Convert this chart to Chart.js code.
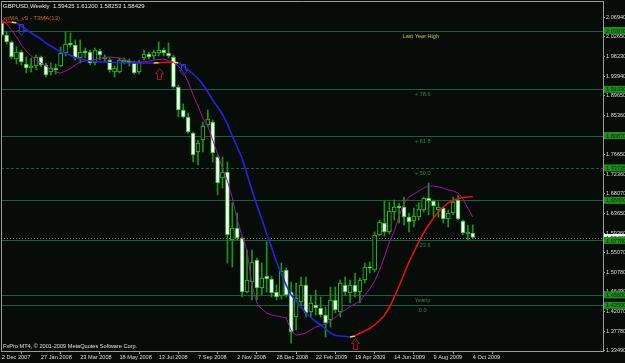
<!DOCTYPE html>
<html>
<head>
<meta charset="utf-8">
<title>GBPUSD,Weekly</title>
<script src="https://cdn.jsdelivr.net/npm/chart.js@4.4.1/dist/chart.umd.min.js"></script>
<style>
  html, body { margin: 0; padding: 0; background: #080c08; }
  canvas { display: block; }
</style>
</head>
<body>
<canvas id="chart" width="625" height="363"></canvas>
<script>
// ------------------- Weekly candles, 2 Dec 2007 .. 4 Oct 2009 -------------------
const opens = [
  2.0562, 2.0298, 2.0144, 1.9770, 1.9924, 1.9660, 1.9572, 1.9616, 1.9814, 1.9638,
  1.9484, 1.9572, 1.9616, 1.9902, 2.0122, 2.0078, 1.9792, 1.9946, 1.9924, 1.9682,
  1.9946, 1.9770, 1.9748, 1.9484, 1.9484, 1.9704, 1.9726, 1.9682, 1.9484, 1.9792,
  1.9880, 1.9836, 1.9902, 1.9968, 1.9902, 1.9814, 1.9154, 1.8648, 1.8494, 1.8142,
  1.7724, 1.7988, 1.8318, 1.8384, 1.7614, 1.7152, 1.7284, 1.5788, 1.6052, 1.5832,
  1.4644, 1.4864, 1.5348, 1.4732, 1.4996, 1.4930, 1.4644, 1.4556, 1.5128, 1.4644,
  1.4094, 1.4424, 1.4798, 1.4204, 1.4358, 1.4292, 1.4138, 1.4028, 1.4468, 1.4204,
  1.4798, 1.4622, 1.4798, 1.4644, 1.4908, 1.5194, 1.5128, 1.5898, 1.6162, 1.5964,
  1.6404, 1.6536, 1.6514, 1.6294, 1.6206, 1.6294, 1.6448, 1.6712, 1.6646, 1.6448,
  1.6492, 1.6250, 1.6382, 1.6668, 1.6206, 1.5920, 1.59425
];
const highs = [
  2.0628, 2.0364, 2.0166, 2.0034, 1.9968, 1.9814, 1.9792, 1.9858, 1.9836, 1.9682,
  1.9682, 1.9660, 2.0034, 2.0364, 2.0342, 2.0188, 2.0188, 2.0012, 1.9968, 2.0012,
  1.9990, 1.9858, 1.9792, 1.9616, 1.9792, 1.9792, 1.9770, 1.9726, 1.9748, 1.9968,
  1.9924, 1.9968, 2.0144, 2.0012, 2.0122, 1.9858, 1.9198, 1.8780, 1.8582, 1.8164,
  1.7988, 1.8384, 1.8648, 1.8428, 1.7658, 1.7614, 1.7504, 1.6602, 1.6382, 1.5876,
  1.5568, 1.5568, 1.5392, 1.5282, 1.5744, 1.4996, 1.4798, 1.5282, 1.5172, 1.4864,
  1.4842, 1.4974, 1.4974, 1.4578, 1.4688, 1.4534, 1.4314, 1.4754, 1.4754, 1.4908,
  1.4974, 1.4908, 1.5062, 1.4952, 1.5282, 1.5304, 1.5964, 1.6228, 1.6646, 1.6624,
  1.6668, 1.6602, 1.6734, 1.6382, 1.6492, 1.6602, 1.6734, 1.7042, 1.6668, 1.6624,
  1.6514, 1.6448, 1.6734, 1.6778, 1.6228, 1.6118, 1.61200
];
const lows = [
  2.0254, 2.0100, 1.9770, 1.9660, 1.9638, 1.9462, 1.9484, 1.9528, 1.9594, 1.9374,
  1.9418, 1.9440, 1.9594, 1.9836, 2.0034, 1.9748, 1.9682, 1.9792, 1.9638, 1.9638,
  1.9748, 1.9704, 1.9484, 1.9374, 1.9462, 1.9660, 1.9616, 1.9440, 1.9440, 1.9748,
  1.9770, 1.9770, 1.9836, 1.9836, 1.9792, 1.9132, 1.8494, 1.8472, 1.8142, 1.7504,
  1.7438, 1.7724, 1.8274, 1.7504, 1.6778, 1.6932, 1.5282, 1.5194, 1.5788, 1.4534,
  1.4622, 1.4468, 1.4468, 1.4578, 1.4644, 1.4534, 1.4468, 1.4490, 1.4534, 1.3522,
  1.3808, 1.4336, 1.4094, 1.4094, 1.4138, 1.4094, 1.3654, 1.3874, 1.4182, 1.4094,
  1.4578, 1.4402, 1.4534, 1.4402, 1.4842, 1.5062, 1.5084, 1.5876, 1.5876, 1.5920,
  1.6228, 1.6162, 1.6118, 1.5964, 1.6074, 1.6228, 1.6404, 1.6338, 1.6294, 1.6294,
  1.6162, 1.6074, 1.6338, 1.6228, 1.5898, 1.5788, 1.58253
];
const closes = [
  2.0298, 2.0144, 1.9814, 1.9924, 1.9704, 1.9572, 1.9616, 1.9814, 1.9638, 1.9418,
  1.9572, 1.9528, 1.9902, 2.0100, 2.0078, 1.9792, 1.9924, 1.9902, 1.9682, 1.9968,
  1.9858, 1.9814, 1.9528, 1.9572, 1.9748, 1.9748, 1.9682, 1.9462, 1.9704, 1.9880,
  1.9814, 1.9924, 1.9968, 1.9902, 1.9836, 1.9154, 1.8648, 1.8494, 1.8164, 1.7658,
  1.7922, 1.8296, 1.8450, 1.7702, 1.7042, 1.7284, 1.5898, 1.6052, 1.5832, 1.4644,
  1.4908, 1.5304, 1.4732, 1.4952, 1.4930, 1.4622, 1.4534, 1.5106, 1.4578, 1.3764,
  1.4512, 1.4798, 1.4182, 1.4402, 1.4292, 1.4138, 1.3962, 1.4468, 1.4248, 1.4842,
  1.4644, 1.4798, 1.4644, 1.4908, 1.5194, 1.5172, 1.5898, 1.6184, 1.5964, 1.6426,
  1.6514, 1.6492, 1.6294, 1.6184, 1.6316, 1.6470, 1.6712, 1.6646, 1.6536, 1.6514,
  1.6250, 1.6382, 1.6624, 1.6250, 1.5942, 1.5964, 1.58429
];

// xpMA_v9 (blue falling / red rising) and the faster magenta average
const maLine = [
  2.0575, 2.0580, 2.0584, 2.0562, 2.0496, 2.0419, 2.0342, 2.0276, 2.0210, 2.0122,
  2.0056, 1.9990, 1.9935, 1.9891, 1.9847, 1.9803, 1.9770, 1.9748, 1.9726, 1.9715,
  1.9704, 1.9704, 1.9697, 1.9693, 1.9693, 1.9686, 1.9682, 1.9682, 1.9682, 1.9682,
  1.9682, 1.9682, 1.9686, 1.9693, 1.9700, 1.9704, 1.9682, 1.9616, 1.9528, 1.9440,
  1.9341, 1.9209, 1.9044, 1.8868, 1.8714, 1.8549, 1.8340, 1.8076, 1.7834, 1.7581,
  1.7240, 1.6888, 1.6558, 1.6250, 1.5931, 1.5623, 1.5304, 1.5040, 1.4787, 1.4578,
  1.4446, 1.4314, 1.4182, 1.4083, 1.3995, 1.3918, 1.3830, 1.3742, 1.3687, 1.3676,
  1.3665, 1.3654, 1.3676, 1.3742, 1.3786, 1.3841, 1.3918, 1.4017, 1.4127, 1.4303,
  1.4534, 1.4776, 1.5040, 1.5304, 1.5524, 1.5744, 1.5942, 1.6118, 1.6272, 1.6404,
  1.6514, 1.6602, 1.6657, 1.6701, 1.6723, 1.6734, 1.6745
];
const fastLine = [
  2.0628, 2.0540, 2.0408, 2.0254, 2.0078, 1.9946, 1.9836, 1.9748, 1.9682, 1.9616,
  1.9550, 1.9484, 1.9462, 1.9506, 1.9561, 1.9638, 1.9704, 1.9726, 1.9737, 1.9759,
  1.9781, 1.9803, 1.9814, 1.9803, 1.9792, 1.9759, 1.9726, 1.9704, 1.9704, 1.9704,
  1.9726, 1.9748, 1.9759, 1.9770, 1.9737, 1.9693, 1.9616, 1.9484, 1.9264, 1.8978,
  1.8736, 1.8472, 1.8296, 1.7988, 1.7680, 1.7372, 1.7086, 1.6712, 1.6228, 1.5876,
  1.5546, 1.4798, 1.4402, 1.4270, 1.4182, 1.4138, 1.4116, 1.4094, 1.4072, 1.3786,
  1.3698, 1.3709, 1.3742, 1.3808, 1.3874, 1.3907, 1.3940, 1.4006, 1.4094, 1.4182,
  1.4248, 1.4325, 1.4380, 1.4446, 1.4578, 1.4710, 1.4886, 1.5128, 1.5414, 1.5744,
  1.5986, 1.6316, 1.6602, 1.6734, 1.6800, 1.6866, 1.6932, 1.6976, 1.6976, 1.6954,
  1.6932, 1.6888, 1.6866, 1.6822, 1.6690, 1.6492, 1.6294
];

// ------------------- Axes -------------------
const dateLabels = ['2 Dec 2007', '27 Jan 2008', '23 Mar 2008', '18 May 2008', '13 Jul 2008', '7 Sep 2008',
  '2 Nov 2008', '28 Dec 2008', '22 Feb 2009', '19 Apr 2009', '14 Jun 2009', '9 Aug 2009', '4 Oct 2009'];
const dateBars = [0, 8, 16, 24, 32, 40, 48, 56, 64, 72, 80, 88, 96];
const priceTicks = [2.0694, 2.0265, 1.9823, 1.9394, 1.8965, 1.8536, 1.8107, 1.7665, 1.7236,
  1.6807, 1.6365, 1.5936, 1.5507, 1.5078, 1.4649, 1.4207, 1.3778, 1.3349];

// ------------------- Objects on the chart -------------------
const levelNames = ['Last Year High', '+ 78.6', '+ 61.8', '+ 50.0', '+ 38.2', '+ 23.6', 'Yearly', '0.0'];
const levelPrices = [2.0397, 1.9103, 1.8087, 1.73735, 1.6660, 1.5778, 1.4580, 1.4350];

const upArrowBars = [32, 72];
const upArrowPrices = [1.9572, 1.3632];
const downArrowBars = [4, 37];
const downArrowPrices = [2.0298, 1.9418];

// ------------------- Helpers -------------------
const BG = '#080c08';
const FONT = '"Liberation Sans", Arial, sans-serif';
const LEVEL_GREEN = '#1b5e42';
const bars = opens.map((_, i) => i);

function maDir(i) {
    const d = Math.sign(maLine[i + 1] - maLine[i]);
    if (d === 0) return i > 0 ? maDir(i - 1) : 1;
    return d;
}

function arrowPath(ctx, px, py, dir) {
    // dir = 1 points up (tip on top), -1 points down (tip at bottom)
    ctx.beginPath();
    ctx.moveTo(px, py);
    ctx.lineTo(px + 4, py + 5 * dir);
    ctx.lineTo(px + 2, py + 5 * dir);
    ctx.lineTo(px + 2, py + 11 * dir);
    ctx.lineTo(px - 2, py + 11 * dir);
    ctx.lineTo(px - 2, py + 5 * dir);
    ctx.lineTo(px - 4, py + 5 * dir);
    ctx.closePath();
    ctx.stroke();
}

const mt4Plugin = {
    id: 'mt4',
    beforeDraw(chart) {
        const ctx = chart.ctx;
        ctx.save();
        ctx.fillStyle = BG;
        ctx.fillRect(0, 0, chart.width, chart.height);
        ctx.restore();
    },
    beforeDatasetsDraw(chart) {
        const { ctx, chartArea: a, scales: { x, y } } = chart;
        ctx.save();
        ctx.font = '5.6px ' + FONT;
        ctx.textBaseline = 'top';
        levelPrices.forEach((p, i) => {
            const py = Math.round(y.getPixelForValue(p)) + 0.5;
            ctx.strokeStyle = LEVEL_GREEN;
            ctx.lineWidth = 1;
            ctx.setLineDash(levelNames[i].includes('50.0') ? [3, 2] : []);
            ctx.beginPath();
            ctx.moveTo(a.left, py);
            ctx.lineTo(a.right, py);
            ctx.stroke();
            const isHigh = levelNames[i] === 'Last Year High';
            ctx.fillStyle = isHigh ? '#c8c814' : '#2a8a4a';
            const lx = x.getPixelForValue(isHigh ? 81.7 : 84.2) + (levelNames[i] === '0.0' ? 4 : 0);
            ctx.fillText(levelNames[i], lx, py + 2);
        });
        // bid line
        const by = Math.round(y.getPixelForValue(closes[closes.length - 1])) + 0.5;
        ctx.setLineDash([1, 2]);
        ctx.strokeStyle = '#8a8a8a';
        ctx.beginPath();
        ctx.moveTo(a.left, by);
        ctx.lineTo(a.right, by);
        ctx.stroke();
        ctx.restore();
    },
    afterDatasetsDraw(chart) {
        const { ctx, scales: { x, y } } = chart;
        ctx.save();
        ctx.lineWidth = 1;
        ctx.strokeStyle = '#b01010';
        upArrowBars.forEach((b, i) => {
            arrowPath(ctx, Math.round(x.getPixelForValue(b)) + 0.5,
                Math.round(y.getPixelForValue(upArrowPrices[i])) + 0.5, 1);
        });
        ctx.strokeStyle = '#3434d0';
        downArrowBars.forEach((b, i) => {
            arrowPath(ctx, Math.round(x.getPixelForValue(b)) + 0.5,
                Math.round(y.getPixelForValue(downArrowPrices[i])) + 0.5, -1);
        });
        ctx.restore();
    },
    afterDraw(chart) {
        const { ctx, chartArea: a, scales: { y } } = chart;
        ctx.save();
        // frame top / left
        ctx.strokeStyle = '#9c9c9c';
        ctx.lineWidth = 1;
        ctx.beginPath();
        ctx.moveTo(a.left + 0.5, a.bottom);
        ctx.lineTo(a.left + 0.5, a.top + 0.5);
        ctx.lineTo(a.right, a.top + 0.5);
        ctx.stroke();

        // price boxes on the right axis
        ctx.font = '5.6px ' + FONT;
        ctx.textBaseline = 'middle';
        const last = closes.length - 1;
        const by = y.getPixelForValue(closes[last]);
        ctx.fillStyle = '#f4f4f4';
        ctx.fillRect(a.right + 1, by - 3.5, 22, 7);
        ctx.fillStyle = '#000000';
        ctx.fillText(closes[last].toFixed(5), a.right + 3, by + 0.5);
        levelPrices.forEach(p => {
            const py = y.getPixelForValue(p);
            ctx.fillStyle = '#1f8a1f';
            ctx.fillRect(a.right + 1, py - 3.5, 22, 7);
            ctx.fillStyle = '#0a300a';
            ctx.fillText(p.toFixed(5), a.right + 3, py + 0.5);
        });

        // window texts
        ctx.textBaseline = 'top';
        ctx.font = '6px ' + FONT;
        ctx.fillStyle = '#e8e8e8';
        const ohlc = [opens[last], highs[last], lows[last], closes[last]].map(v => v.toFixed(5)).join(' ');
        ctx.fillText('GBPUSD,Weekly  ' + ohlc, 3, 3);
        ctx.fillStyle = '#c8641e';
        ctx.fillText('xpMA_v9 - T3MA(13)', 3, 15);
        ctx.font = '5.6px ' + FONT;
        ctx.fillStyle = '#e0e0e0';
        ctx.fillText('FxPro MT4, \u00a9 2001-2009 MetaQuotes Software Corp.', 3, 344);
        ctx.restore();
    }
};

// ------------------- Chart -------------------
new Chart(document.getElementById('chart'), {
    type: 'bar',
    data: {
        datasets: [
            {
                label: 'wicks',
                data: bars.map(i => ({ x: i, y: [lows[i], highs[i]] })),
                backgroundColor: '#139a13',
                barThickness: 1,
                grouped: false,
                order: 5
            },
            {
                label: 'bodies',
                data: bars.map(i => ({ x: i, y: [opens[i], closes[i]] })),
                backgroundColor: c => closes[c.dataIndex] < opens[c.dataIndex] ? '#ffffff' : BG,
                borderColor: '#2cc02c',
                borderWidth: 1,
                borderSkipped: false,
                barThickness: 4,
                minBarLength: 1,
                grouped: false,
                order: 4
            },
            {
                type: 'line',
                label: 'fast',
                data: bars.map(i => ({ x: i, y: fastLine[i] })),
                borderColor: '#a012a8',
                borderWidth: 1,
                pointRadius: 0,
                tension: 0,
                order: 2
            },
            {
                type: 'line',
                label: 'xpMA_v9',
                data: bars.map(i => ({ x: i, y: maLine[i] })),
                borderColor: '#2424e0',
                borderWidth: 1.6,
                pointRadius: 0,
                tension: 0,
                segment: {
                    borderColor: c => {
                        const i = c.p0DataIndex;
                        const d = maDir(i);
                        if (i > 0 && maDir(i - 1) !== d) return '#e8e020';
                        return d > 0 ? '#e01212' : '#2424e0';
                    }
                },
                order: 1
            }
        ]
    },
    options: {
        responsive: false,
        animation: false,
        layout: { padding: { top: 1, left: 1, right: 0, bottom: 0 } },
        plugins: { legend: { display: false }, tooltip: { enabled: false } },
        scales: {
            x: {
                type: 'linear',
                min: -0.15,
                max: 122.55,
                offset: false,
                afterFit: s => {
                    s.height = 12;
                    s.paddingLeft = 0;
                    s.paddingRight = 0;
                },
                afterBuildTicks: s => { s.ticks = dateBars.map(v => ({ value: v })); },
                ticks: {
                    callback: (v, i) => dateLabels[i],
                    autoSkip: false,
                    maxRotation: 0,
                    minRotation: 0,
                    align: 'start',
                    padding: 0,
                    color: '#dcdcdc',
                    font: { family: FONT, size: 5.6 }
                },
                grid: { drawOnChartArea: false, drawTicks: true, tickLength: 3, color: '#9c9c9c' },
                border: { display: true, color: '#9c9c9c' }
            },
            y: {
                type: 'linear',
                position: 'right',
                min: 1.3346,
                max: 2.1046,
                afterFit: s => {
                    s.width = 22;
                    s.paddingTop = 0;
                    s.paddingBottom = 0;
                },
                afterBuildTicks: s => { s.ticks = priceTicks.map(v => ({ value: v })); },
                ticks: {
                    callback: v => v.toFixed(5),
                    padding: 1,
                    color: '#dcdcdc',
                    font: { family: FONT, size: 5.6 }
                },
                grid: { drawOnChartArea: false, drawTicks: true, tickLength: 2, color: '#9c9c9c' },
                border: { display: true, color: '#9c9c9c' }
            }
        }
    },
    plugins: [mt4Plugin]
});
</script>
</body>
</html>
